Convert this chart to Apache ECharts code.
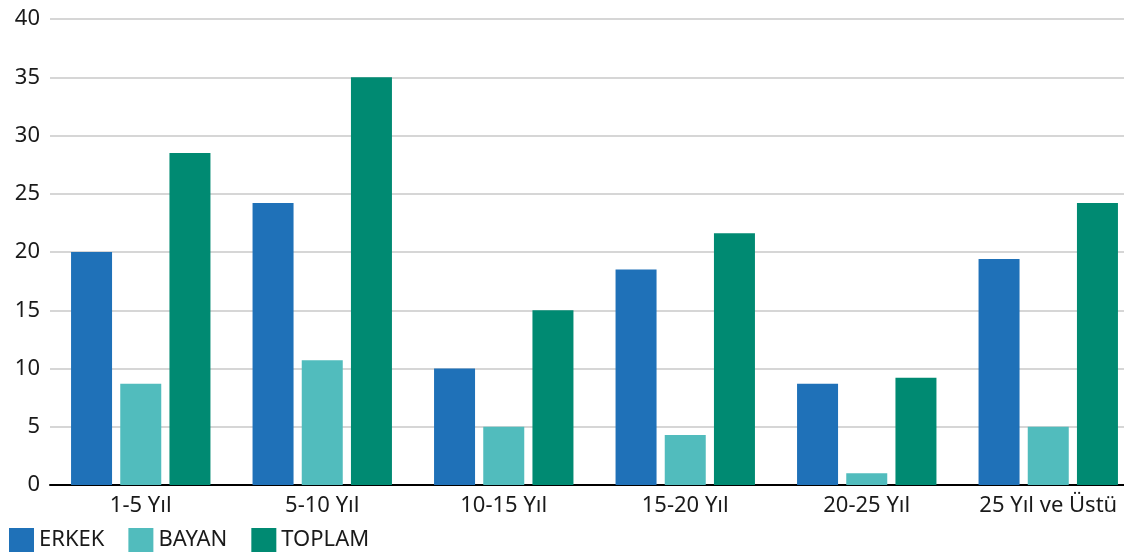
<!DOCTYPE html>
<html><head><meta charset="utf-8">
<script src="https://cdn.jsdelivr.net/npm/echarts@6/dist/echarts.min.js"></script>
<style>html,body{margin:0;padding:0;background:#fff;overflow:hidden}#c{width:1140px;height:553px}</style>
</head><body><div id="c"></div>
<script>
const categories = ['1-5 Yıl','5-10 Yıl','10-15 Yıl','15-20 Yıl','20-25 Yıl','25 Yıl ve Üstü'];
const erkek = [20, 24.2, 10, 18.5, 8.7, 19.4];
const bayan = [8.7, 10.7, 5, 4.3, 1, 5];
const toplam = [28.5, 35, 15, 21.6, 9.2, 24.2];
const yTicks = [0,5,10,15,20,25,30,35,40];

const font = '"Noto Sans", sans-serif';
const chart = echarts.init(document.getElementById('c'));
chart.setOption({
  animation: false,
  color: ['#1F71B8','#51BCBD','#008A72'],
  grid: {left: 50, width: 1089, top: 19, bottom: 68, containLabel: false},
  legend: {
    left: 9, top: 528, padding: 0, itemWidth: 25, itemHeight: 24, itemGap: 24,
    icon: 'rect',
    textStyle: {fontFamily: font, fontSize: 22, color: '#1a1a1a'},
    data: ['ERKEK','BAYAN','TOPLAM']
  },
  xAxis: {
    type: 'category', data: categories,
    axisLine: {lineStyle: {color: '#000', width: 2}},
    axisTick: {show: false},
    axisLabel: {fontFamily: font, fontSize: 22, color: '#1a1a1a', margin: 10}
  },
  yAxis: {
    type: 'value', min: yTicks[0], max: yTicks[yTicks.length-1], interval: 5,
    axisLine: {show: false}, axisTick: {show: false},
    axisLabel: {fontFamily: font, fontSize: 22, color: '#1a1a1a', margin: 10},
    splitLine: {lineStyle: {color: '#c8c8c8', width: 1.5}}
  },
  series: [
    {name: 'ERKEK', type: 'bar', data: erkek, barWidth: 41, barGap: '20%'},
    {name: 'BAYAN', type: 'bar', data: bayan, barWidth: 41, barGap: '20%'},
    {name: 'TOPLAM', type: 'bar', data: toplam, barWidth: 41, barGap: '20%'}
  ]
});
</script></body></html>
